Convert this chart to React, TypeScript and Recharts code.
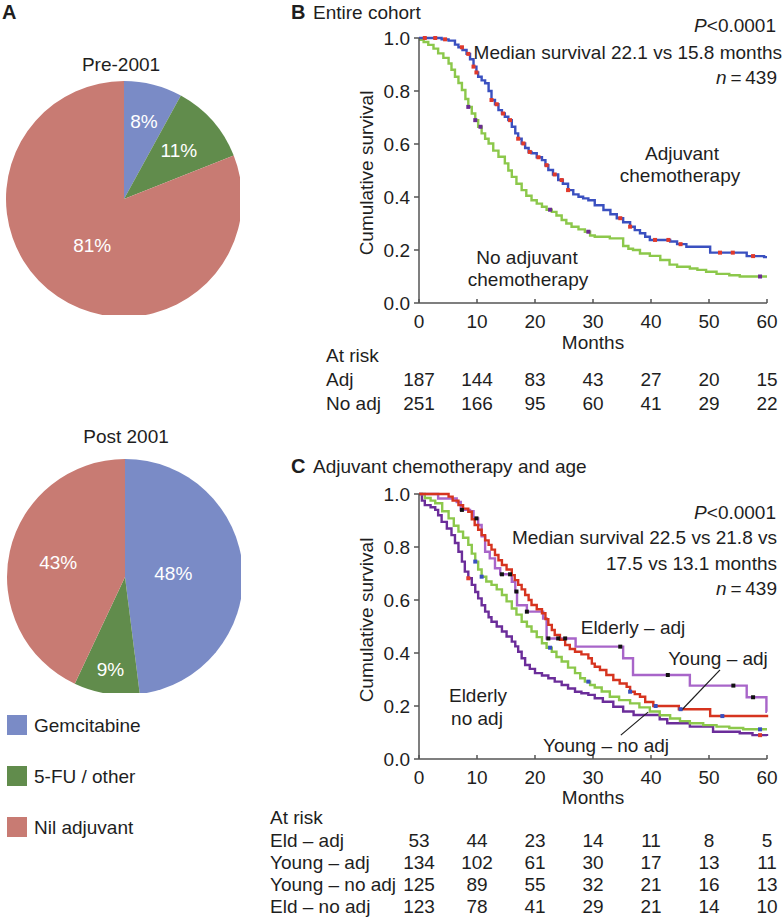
import React from 'react';
import { PieChart, Pie, Cell, LineChart, Line, XAxis, YAxis, ReferenceLine } from 'recharts';

const FONT = '"Liberation Sans", Arial, Helvetica, sans-serif';
const INK = '#1e1e1e';
const AXIS = '#555';
const FS = 19;

// ---- A: adjuvant treatment share (%) ----
const treatments = ['Gemcitabine', '5-FU / other', 'Nil adjuvant'];
const pre2001 = [8, 11, 81];
const post2001 = [48, 9, 43];
const sliceColors = ['#7A8BC6', '#618C4C', '#C87B73'];

// ---- shared survival axes ----
const monthTicks = [0, 10, 20, 30, 40, 50, 60];
const survTicks = [0, 0.2, 0.4, 0.6, 0.8, 1.0];

// ---- B: entire cohort, [month, survival] ----
const adjB = [
  [0, 1], [3.9, 0.995], [5.1, 0.99], [6.2, 0.975], [6.8, 0.965], [7.5, 0.955], [8.2, 0.94], [8.8, 0.92],
  [9.4, 0.892], [9.9, 0.87], [10.2, 0.854], [10.8, 0.84], [11.4, 0.829], [12, 0.8], [12.5, 0.766], [13.1, 0.75],
  [13.7, 0.728], [14.3, 0.715], [14.8, 0.703], [15.4, 0.69], [16, 0.665], [16.6, 0.64], [17.1, 0.62], [17.7, 0.602],
  [18.3, 0.585], [18.9, 0.57], [19.4, 0.565], [20.3, 0.55], [21.2, 0.539], [21.8, 0.52], [22.3, 0.502], [23.1, 0.485],
  [24, 0.464], [24.8, 0.45], [25.7, 0.426], [26.6, 0.41], [27.5, 0.401], [28.3, 0.395], [29.2, 0.388], [30.3, 0.369],
  [31.8, 0.351], [33, 0.335], [34.1, 0.32], [35.2, 0.305], [36.4, 0.288], [37.2, 0.275], [38.1, 0.263], [39, 0.25],
  [39.8, 0.238], [43.3, 0.232], [44.5, 0.222], [46.1, 0.212], [50.2, 0.19], [56.5, 0.177], [59.5, 0.173], [60, 0.173],
];
const noAdjB = [
  [0, 0.993], [0.8, 0.985], [1.6, 0.974], [2.5, 0.96], [3.3, 0.942], [4.2, 0.925], [5.1, 0.904], [5.6, 0.88],
  [6.2, 0.854], [6.8, 0.83], [7.4, 0.804], [8, 0.77], [8.5, 0.74], [9.1, 0.715], [9.7, 0.69], [10.2, 0.665],
  [10.8, 0.64], [11.4, 0.62], [12, 0.602], [12.8, 0.575], [13.7, 0.552], [14.8, 0.527], [15.4, 0.5], [16, 0.476],
  [16.8, 0.45], [17.7, 0.426], [18.5, 0.405], [19.4, 0.388], [20.3, 0.375], [21.2, 0.363], [22, 0.352], [22.9, 0.344],
  [23.7, 0.33], [24.6, 0.313], [25.4, 0.3], [26.3, 0.288], [27.5, 0.278], [28.6, 0.269], [29.5, 0.255], [30.3, 0.25],
  [32.9, 0.244], [35.2, 0.215], [36.1, 0.205], [36.9, 0.2], [38.1, 0.187], [39.8, 0.178], [41.6, 0.162], [43.2, 0.145],
  [44.5, 0.137], [46.7, 0.13], [48, 0.125], [49.5, 0.118], [51.3, 0.11], [53.5, 0.105], [55.3, 0.1], [60, 0.1],
];
const adjBCensor = [1, 2.8, 4.5, 7.4, 8.5, 9.4, 9.9, 12.5, 13.4, 14.5, 15.7, 17.1, 18, 19.1, 20.6, 22, 23.4, 24.6, 25.7,
  34.7, 36.4, 40.7, 43, 45.1, 51.9, 54.1, 57.6];
const noAdjBCensor = [8.5, 9.7, 10.6, 22.6, 29.2, 58.8];
const riskLabelsB = ['Adj', 'No adj'];
const riskAdj = [187, 144, 83, 43, 27, 20, 15];
const riskNoAdj = [251, 166, 95, 60, 41, 29, 22];

// ---- C: chemotherapy and age ----
const youngAdj = [
  [0, 1], [5.1, 0.99], [5.8, 0.975], [6.8, 0.958], [7.6, 0.945], [8.5, 0.933], [9.1, 0.905], [9.6, 0.883],
  [10.2, 0.865], [10.8, 0.845], [11.4, 0.825], [12, 0.808], [12.5, 0.79], [13.1, 0.77], [13.7, 0.75], [14.3, 0.732],
  [15.1, 0.715], [16, 0.694], [16.5, 0.675], [17.1, 0.657], [17.7, 0.64], [18.3, 0.619], [18.9, 0.6], [19.4, 0.581],
  [20.3, 0.565], [21.2, 0.55], [21.8, 0.528], [22.3, 0.506], [22.9, 0.487], [23.4, 0.468], [24.3, 0.45], [25.2, 0.43],
  [26, 0.415], [26.9, 0.405], [28, 0.395], [29.2, 0.38], [29.8, 0.36], [30.3, 0.348], [31.2, 0.336], [32.3, 0.317],
  [33.5, 0.298], [34.6, 0.285], [35.8, 0.272], [36.4, 0.254], [37.2, 0.245], [38.1, 0.235], [39, 0.215], [40.4, 0.2],
  [44.8, 0.188], [50.2, 0.162], [60, 0.158],
];
const elderlyAdj = [
  [0, 1], [3.3, 0.983], [6.5, 0.97], [7.2, 0.94], [8.8, 0.935], [9.4, 0.908], [10.2, 0.883], [10.8, 0.84],
  [11.4, 0.782], [12.2, 0.757], [13.1, 0.72], [14, 0.697], [16, 0.669], [16.6, 0.632], [16.9, 0.58], [18.6, 0.556],
  [21.4, 0.53], [22, 0.455], [27, 0.424], [35.2, 0.38], [36.9, 0.317], [46.7, 0.277], [56.5, 0.233], [59.9, 0.178],
  [60, 0.178],
];
const youngNoAdj = [
  [0, 1], [1, 0.985], [2, 0.975], [2.8, 0.965], [4, 0.935], [5.1, 0.908], [6, 0.88], [6.8, 0.858], [7.6, 0.835],
  [8.5, 0.808], [9.1, 0.775], [9.7, 0.745], [10.2, 0.715], [10.8, 0.688], [11.6, 0.67], [12.5, 0.657], [13.4, 0.64],
  [14.3, 0.619], [15.1, 0.595], [16, 0.568], [16.8, 0.545], [17.7, 0.518], [18.6, 0.5], [19.4, 0.481], [20.3, 0.46],
  [21.2, 0.437], [22, 0.42], [22.9, 0.405], [23.7, 0.385], [24.6, 0.368], [25.7, 0.345], [26.9, 0.324], [27.8, 0.305],
  [28.6, 0.292], [29.5, 0.279], [30.3, 0.27], [31.5, 0.255], [32.9, 0.235], [34.5, 0.222], [36.4, 0.21], [38, 0.195],
  [39.8, 0.179], [41.5, 0.165], [43.3, 0.153], [45, 0.143], [46.7, 0.135], [49, 0.128], [51.3, 0.122], [53.5, 0.117],
  [55.9, 0.112], [60, 0.112],
];
const elderlyNoAdj = [
  [0, 1], [0.5, 0.975], [1, 0.958], [2, 0.95], [2.8, 0.94], [3.3, 0.92], [3.9, 0.895], [4.8, 0.87], [5.6, 0.845],
  [6.2, 0.815], [6.8, 0.782], [7.4, 0.745], [7.9, 0.707], [8.5, 0.682], [9.1, 0.657], [9.7, 0.63], [10.2, 0.606],
  [10.8, 0.58], [11.4, 0.556], [12, 0.535], [12.5, 0.518], [13.4, 0.5], [14.3, 0.481], [15.1, 0.462], [16, 0.443],
  [16.6, 0.425], [17.1, 0.405], [17.7, 0.38], [18.3, 0.355], [19.1, 0.34], [20, 0.324], [21.2, 0.315], [22.3, 0.305],
  [23.4, 0.292], [24.6, 0.279], [25.7, 0.266], [26.9, 0.254], [28, 0.248], [29.2, 0.242], [30.3, 0.229], [31.7, 0.216],
  [33.5, 0.197], [35.2, 0.179], [37, 0.166], [41.5, 0.15], [42.8, 0.135], [46.7, 0.122], [50.7, 0.103], [55.3, 0.097],
  [57.5, 0.09], [60, 0.087],
];
const elderlyAdjCensor = [7.4, 9.9, 14.3, 15.7, 16.8, 18.6, 22.3, 24, 25.2, 34.7, 42.9, 54.2, 57.6];
const youngAdjCensor = [36.4, 40.8, 45.1, 52.3];
const youngNoAdjCensor = [9.7, 10.8, 22.6, 29.2, 58.8];
const elderlyNoAdjCensor = [8.5, 58.8];
const riskLabelsC = ['Eld \u2013 adj', 'Young \u2013 adj', 'Young \u2013 no adj', 'Eld \u2013 no adj'];
const riskEldAdj = [53, 44, 23, 14, 11, 8, 5];
const riskYoungAdj = [134, 102, 61, 30, 17, 13, 11];
const riskYoungNoAdj = [125, 89, 55, 32, 21, 16, 13];
const riskEldNoAdj = [123, 78, 41, 29, 21, 14, 10];
// leader lines for curve labels, in [month, survival]
const leaderYoungAdj = [[51.9, 0.336], [45.3, 0.185]];
const leaderYoungNoAdj = [[39.5, 0.177], [34.8, 0.09]];

const toRows = (pts: number[][]) => pts.map(([m, s]) => ({ m, s }));
const stepAt = (pts: number[][], m: number) => {
  let s = pts[0][1];
  for (const p of pts) if (p[0] <= m) s = p[1];
  return s;
};
const censorRows = (pts: number[][], months: number[]) => months.map((m) => ({ m, s: stepAt(pts, m) }));

const Txt = ({ x, y, anchor = 'start', size = FS, bold = false, children }: any) => {
  const tx = anchor === 'middle' ? '-50%' : anchor === 'end' ? '-100%' : '0';
  return (
    <div
      style={{
        position: 'absolute', left: x, top: y, transform: `translate(${tx}, -50%)`, whiteSpace: 'nowrap',
        fontSize: size, lineHeight: 1, fontWeight: bold ? 700 : 400, color: INK, fontFamily: FONT,
      }}
    >
      {children}
    </div>
  );
};

const pieLabel = (radii: number[]) => (p: any) => {
  const RAD = Math.PI / 180;
  const r = p.outerRadius * radii[p.index];
  const x = p.cx + r * Math.cos(-p.midAngle * RAD);
  const y = p.cy + r * Math.sin(-p.midAngle * RAD);
  return (
    <text x={x} y={y} fill="#fff" fontSize={FS} fontFamily={FONT} textAnchor="middle" dominantBaseline="central">
      {p.value}%
    </text>
  );
};

function ShareChart({ values, radii }: { values: number[]; radii: number[] }) {
  const data = treatments.map((name, i) => ({ name, value: values[i] }));
  return (
    <PieChart width={240} height={240}>
      <Pie data={data} dataKey="value" cx={119} cy={119} outerRadius={118} startAngle={90} endAngle={-270}
        stroke="none" isAnimationActive={false} labelLine={false} label={pieLabel(radii)}>
        {data.map((d, i) => <Cell key={d.name} fill={sliceColors[i]} />)}
      </Pie>
    </PieChart>
  );
}

// x ticks point inward, so the tick y passed here sits 4px above the axis line
const monthTick = (rows: number[][], rowDy: number[]) => (p: any) => {
  const i = monthTicks.indexOf(p.payload.value);
  const t = { textAnchor: 'middle' as const, fontSize: FS, fontFamily: FONT, fill: INK };
  return (
    <g>
      <text x={p.x} y={p.y + 29} {...t}>{p.payload.value}</text>
      {rows.map((r, k) => <text key={k} x={p.x} y={p.y + rowDy[k]} {...t}>{r[i]}</text>)}
    </g>
  );
};

const censorDot = (color: string) => (p: any) => (
  <rect key={`${p.index}`} x={p.cx - 2} y={p.cy - 2} width={4} height={4} fill={color} />
);

function Survival({ height, top, xAxisH, curves, censors, rows, rowDy, leaders }: any) {
  return (
    <LineChart width={523} height={height} margin={{ top, right: 16, bottom: 0, left: 0 }}>
      <XAxis type="number" dataKey="m" domain={[0, 60]} ticks={monthTicks} height={xAxisH} interval={0}
        stroke={AXIS} strokeWidth={1.5} tickSize={-4} tickMargin={0} tick={monthTick(rows, rowDy)} />
      <YAxis type="number" dataKey="s" domain={[0, 1]} ticks={survTicks} width={159} interval={0}
        stroke={AXIS} strokeWidth={1.5} tickSize={5} tickMargin={4}
        tickFormatter={(v: number) => v.toFixed(1)} tick={{ fontSize: FS, fill: INK, fontFamily: FONT }} />
      {curves.map((c: any) => (
        <Line key={c.name} name={c.name} data={toRows(c.pts)} dataKey="s" type="stepAfter" stroke={c.color}
          strokeWidth={2.4} dot={false} isAnimationActive={false} />
      ))}
      {censors.map((c: any) => (
        <Line key={c.name} name={c.name} data={censorRows(c.pts, c.months)} dataKey="s" stroke="none"
          dot={censorDot(c.color)} isAnimationActive={false} />
      ))}
      {(leaders || []).map((l: number[][], i: number) => (
        <ReferenceLine key={i} segment={[{ x: l[0][0], y: l[0][1] }, { x: l[1][0], y: l[1][1] }]}
          stroke={INK} strokeWidth={1.2} />
      ))}
    </LineChart>
  );
}

const YLabel = ({ y }: { y: number }) => (
  <div style={{ position: 'absolute', left: 366, top: y, transform: 'translate(-50%, -50%) rotate(-90deg)', whiteSpace: 'nowrap', fontSize: FS, lineHeight: 1, color: INK, fontFamily: FONT }}>
    Cumulative survival
  </div>
);

export default function App() {
  return (
    <div style={{ position: 'absolute', left: 0, top: 0, width: 783, height: 924, background: '#fff', fontFamily: FONT }}>
      {/* A */}
      <Txt x={2} y={12} size={20} bold>A</Txt>
      <Txt x={121} y={64} anchor="middle">Pre-2001</Txt>
      <div style={{ position: 'absolute', left: 0, top: 75 }}>
        <ShareChart values={pre2001} radii={[0.68, 0.62, 0.48]} />
      </div>
      <Txt x={126} y={436} anchor="middle">Post 2001</Txt>
      <div style={{ position: 'absolute', left: 1, top: 453 }}>
        <ShareChart values={post2001} radii={[0.41, 0.79, 0.58]} />
      </div>
      {treatments.map((t, i) => (
        <React.Fragment key={t}>
          <div style={{ position: 'absolute', left: 7, top: 715 + i * 51, width: 20, height: 20, background: sliceColors[i] }} />
          <Txt x={34} y={725 + i * 51}>{t}</Txt>
        </React.Fragment>
      ))}

      {/* B */}
      <Txt x={291} y={12} size={20} bold>B</Txt>
      <Txt x={313} y={12}>Entire cohort</Txt>
      <div style={{ position: 'absolute', left: 260, top: 0 }}>
        <Survival height={415} top={38} xAxisH={112}
          curves={[
            { name: 'No adjuvant', pts: noAdjB, color: '#8CC84B' },
            { name: 'Adjuvant', pts: adjB, color: '#3A50C0' },
          ]}
          censors={[
            { name: 'No adjuvant censored', pts: noAdjB, months: noAdjBCensor, color: '#6A2C91' },
            { name: 'Adjuvant censored', pts: adjB, months: adjBCensor, color: '#E03A2C' },
          ]}
          rows={[riskAdj, riskNoAdj]} rowDy={[86.5, 110.5]} />
      </div>
      <YLabel y={173} />
      <Txt x={776} y={25} anchor="end"><i>P</i>&lt;0.0001</Txt>
      <Txt x={782} y={52} anchor="end">Median survival 22.1 vs 15.8 months</Txt>
      <Txt x={777} y={77} anchor="end"><i>n</i>&thinsp;=&thinsp;439</Txt>
      <Txt x={682} y={153} anchor="middle">Adjuvant</Txt>
      <Txt x={680} y={175} anchor="middle">chemotherapy</Txt>
      <Txt x={527} y={257} anchor="middle">No adjuvant</Txt>
      <Txt x={528} y={279} anchor="middle">chemotherapy</Txt>
      <Txt x={593} y={342} anchor="middle">Months</Txt>
      <Txt x={326} y={355}>At risk</Txt>
      {riskLabelsB.map((l, i) => <Txt key={l} x={326} y={379 + i * 24}>{l}</Txt>)}

      {/* C */}
      <Txt x={291} y={466} size={20} bold>C</Txt>
      <Txt x={313} y={466}>Adjuvant chemotherapy and age</Txt>
      <div style={{ position: 'absolute', left: 260, top: 420 }}>
        <Survival height={504} top={74} xAxisH={165}
          curves={[
            { name: 'Elderly no adj', pts: elderlyNoAdj, color: '#6B2D9A' },
            { name: 'Young no adj', pts: youngNoAdj, color: '#8CC84B' },
            { name: 'Elderly adj', pts: elderlyAdj, color: '#A865C9' },
            { name: 'Young adj', pts: youngAdj, color: '#D6341F' },
          ]}
          censors={[
            { name: 'Elderly adj censored', pts: elderlyAdj, months: elderlyAdjCensor, color: '#111' },
            { name: 'Young adj censored', pts: youngAdj, months: youngAdjCensor, color: '#3A50C0' },
            { name: 'Young no adj censored', pts: youngNoAdj, months: youngNoAdjCensor, color: '#3A50C0' },
            { name: 'Elderly no adj censored', pts: elderlyNoAdj, months: elderlyNoAdjCensor, color: '#E03A2C' },
          ]}
          rows={[riskEldAdj, riskYoungAdj, riskYoungNoAdj, riskEldNoAdj]} rowDy={[91.5, 113.5, 135.5, 157.5]}
          leaders={[leaderYoungAdj, leaderYoungNoAdj]} />
      </div>
      <YLabel y={620} />
      <Txt x={776} y={512} anchor="end"><i>P</i>&lt;0.0001</Txt>
      <Txt x={777} y={537} anchor="end">Median survival 22.5 vs 21.8 vs</Txt>
      <Txt x={777} y={563} anchor="end">17.5 vs 13.1 months</Txt>
      <Txt x={777} y={588} anchor="end"><i>n</i>&thinsp;=&thinsp;439</Txt>
      <Txt x={633} y={627} anchor="middle">Elderly &ndash; adj</Txt>
      <Txt x={718} y={658} anchor="middle">Young &ndash; adj</Txt>
      <Txt x={478} y={695} anchor="middle">Elderly</Txt>
      <Txt x={477} y={718} anchor="middle">no adj</Txt>
      <Txt x={606} y={745} anchor="middle">Young &ndash; no adj</Txt>
      <Txt x={593} y={797} anchor="middle">Months</Txt>
      <Txt x={270} y={817}>At risk</Txt>
      {riskLabelsC.map((l, i) => <Txt key={l} x={270} y={840 + i * 22}>{l}</Txt>)}
    </div>
  );
}
